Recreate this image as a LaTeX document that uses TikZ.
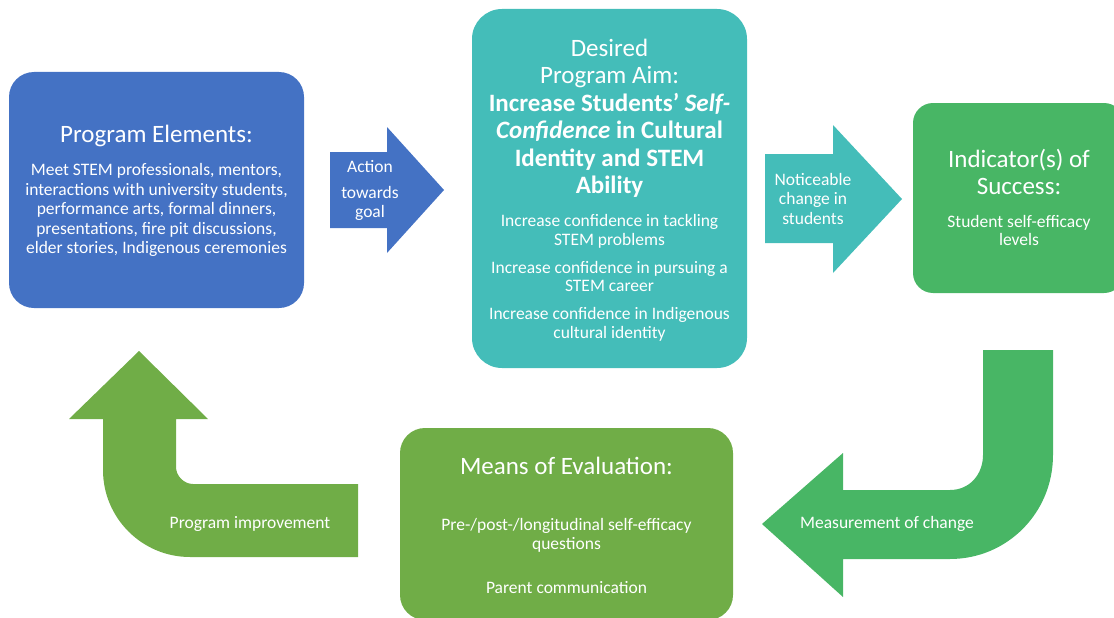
\documentclass[tikz,border=0pt]{standalone}
\usepackage{fontspec}
\setmainfont{Carlito}
\definecolor{cblue}{HTML}{4472C4}
\definecolor{cteal}{HTML}{44BDB9}
\definecolor{cgreen}{HTML}{48B665}
\definecolor{colive}{HTML}{70AD47}
\newcommand{\fs}[2]{\fontsize{#1pt}{#2pt}\selectfont}
\begin{document}
\begin{tikzpicture}[x=1pt,y=-1pt,
  card/.style={rounded corners=#1, inner sep=0pt, outer sep=0pt},
  card/.default=25pt,
  % multi-line nodes sit on the baseline of their last line
  txt/.style={text=white, align=center, inner sep=0pt, anchor=base},
  big/.style={txt, font=\fs{25}{27.5}},
  small/.style={txt, font=\fs{17.5}{18.5}}]
\useasboundingbox (0,0) rectangle (1114,618);
\clip (0,0) rectangle (1114,618);

% --- boxes ---
\fill[cblue, card=25pt] (9,72) rectangle (304,308);
\node (elements) at (156.5,190) {};
\fill[cteal, card=30pt] (472,9) rectangle (747,368);
\node (aim) at (609.5,188.5) {};
\fill[cgreen, card=20pt] (913,103) rectangle (1124,293);
\node (indicator) at (1013,198) {};
\fill[colive, card=25pt] (400,428) rectangle (733,620);
\node (evaluation) at (566.5,523) {};

% --- block arrows ---
\fill[cblue] (330,152) -- (387,152) -- (387,127) -- (444,190) -- (387,253)
  -- (387,228) -- (330,228) -- cycle;
\fill[cteal] (765,154) -- (833,154) -- (833,125) -- (902,199) -- (833,273)
  -- (833,243) -- (765,243) -- cycle;
\fill[cgreen] (983,350) -- (1053,350) -- (1053,455)
  .. controls (1053,513) and (1007,559) .. (950,559)
  -- (843,559) -- (843,597) -- (762,524) -- (843,453) -- (843,490) -- (950,490)
  .. controls (970,490) and (983,474) .. (983,455) -- cycle;
\fill[colive] (139,351) -- (208,419) -- (176,419) -- (176,467)
  .. controls (176,476) and (184,484) .. (193,484)
  -- (358,484) -- (358,557) -- (190,557)
  .. controls (142,557) and (103,518) .. (103,470)
  -- (103,419) -- (69,419) -- cycle;

% --- texts ---
\node[big] (elemtitle) at (156.5,142) {Program Elements:};
\node[small, font=\fs{17.5}{19.5}] (elemlist) at (156.5,253.5) {Meet STEM professionals, mentors,\\
  interactions with university students,\\ performance arts, formal dinners,\\
  presentations, fire pit discussions,\\ elder stories, Indigenous ceremonies};

\node[small, font=\fs{17.5}{19}] (action) at (370,217) {Action\\[7pt]towards\\goal};

\node[big] (aimtitle) at (609.5,193.5) {Desired\\ Program Aim:\\
  \textbf{Increase Students’ \textit{Self-}}\\
  \textbf{\textit{Confidence} in Cultural}\\
  \textbf{Identity and STEM}\\ \textbf{Ability}};
\node[small] (aimlist) at (609.5,338) {Increase confidence in tackling\\
  STEM problems\\[9.5pt] Increase confidence in pursuing a\\ STEM career\\[9.5pt]
  Increase confidence in Indigenous\\ cultural identity};

\node[small, font=\fs{17.5}{19.5}] (notice) at (813,224) {Noticeable\\ change in\\ students};

\node[big] (indtitle) at (1019,194.5) {Indicator(s) of\\ Success:};
\node[small] (indlist) at (1019,245.5) {Student self-efficacy\\ levels};

\node[big] (evaltitle) at (566.5,474) {Means of Evaluation:};
\node[small, font=\fs{17.5}{19}] (evallist) at (566.5,549)
  {Pre-/post-/longitudinal self-efficacy\\ questions};
\node[small] (parent) at (566.5,593) {Parent communication};

\node[small] (measure) at (887,528) {Measurement of change};
\node[small] (improve) at (250,528) {Program improvement};
\end{tikzpicture}
\end{document}
